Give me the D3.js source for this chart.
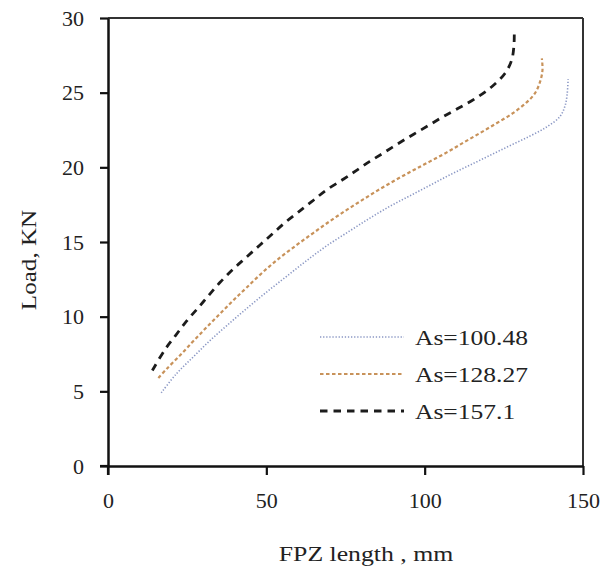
<!DOCTYPE html>
<html lang="en">
<head>
    <meta charset="UTF-8">
    <script src="https://cdn.jsdelivr.net/npm/d3@7"></script>
    <title>Load vs FPZ length</title>
    <style>
        body { margin: 0; background: #fff; }
        svg text { font-family: "Liberation Serif", "Times New Roman", Tinos, Times, serif; fill: #222; }
    </style>
</head>
<body>
<script>
    // series
    var seriesNames = ["As=100.48", "As=128.27", "As=157.1"];

    var x100 = [16.8, 21.7, 26.9, 32.2, 37.5, 43.8, 50.1, 56.4, 62.7, 69.1, 76.4, 82.7, 89.1, 95.4, 101.7, 108.0, 114.3, 120.6, 126.9, 133.3, 138.5, 142.7, 144.3, 145.0, 145.3];
    var y100 = [4.9, 6.2, 7.3, 8.4, 9.4, 10.55, 11.65, 12.7, 13.75, 14.75, 15.75, 16.6, 17.4, 18.1, 18.8, 19.5, 20.15, 20.8, 21.45, 22.1, 22.7, 23.4, 24.1, 24.9, 25.9];

    var x128 = [15.9, 18.5, 22.7, 26.9, 31.2, 35.4, 39.6, 43.8, 49.0, 54.3, 59.6, 64.8, 70.1, 75.4, 80.6, 85.9, 91.2, 96.4, 101.7, 107.0, 112.2, 117.5, 122.7, 128.0, 132.2, 134.8, 136.4, 137.2, 137.0];
    var y128 = [5.9, 6.5, 7.4, 8.35, 9.3, 10.2, 11.1, 11.95, 13.0, 13.95, 14.8, 15.6, 16.4, 17.15, 17.85, 18.55, 19.2, 19.8, 20.4, 21.0, 21.65, 22.3, 22.95, 23.65, 24.35, 24.95, 25.7, 26.5, 27.3];

    var x157 = [14.0, 18.0, 21.2, 24.8, 28.5, 31.7, 35.4, 39.6, 43.8, 48.0, 51.7, 55.9, 60.1, 64.3, 69.1, 74.3, 78.5, 82.7, 86.9, 91.7, 96.4, 101.2, 105.9, 110.6, 115.9, 121.2, 125.4, 127.5, 128.2, 128.3];
    var y157 = [6.4, 7.8, 8.7, 9.7, 10.6, 11.4, 12.3, 13.2, 14.0, 14.8, 15.5, 16.3, 17.0, 17.7, 18.5, 19.2, 19.8, 20.4, 20.95, 21.6, 22.2, 22.8, 23.4, 23.95, 24.6, 25.4, 26.3, 27.2, 28.2, 28.9];

    var xTicks = [0, 50, 100, 150];
    var yTicks = [0, 5, 10, 15, 20, 25, 30];

    var margin = {top: 18, right: 27, bottom: 100, left: 108};
    var width = 610 - margin.left - margin.right,
        height = 566 - margin.top - margin.bottom;

    var svg = d3.select("body").append("svg")
        .attr("width", 610)
        .attr("height", 566);

    var g = svg.append("g")
        .attr("transform", "translate(" + margin.left + "," + margin.top + ")");

    var x = d3.scaleLinear().domain([0, 150]).range([0, width]);
    var y = d3.scaleLinear().domain([0, 30]).range([height, 0]);

    // frame on top and right
    g.append("line").attr("x1", 0).attr("x2", width).attr("y1", 0).attr("y2", 0)
        .attr("stroke", "#333").attr("stroke-width", 2);
    g.append("line").attr("x1", width).attr("x2", width).attr("y1", 0).attr("y2", height)
        .attr("stroke", "#333").attr("stroke-width", 2);

    var xAxis = g.append("g")
        .attr("transform", "translate(0," + height + ")")
        .call(d3.axisBottom(x).tickValues(xTicks).tickSize(9).tickSizeOuter(0).tickPadding(17));
    var yAxis = g.append("g")
        .call(d3.axisLeft(y).tickValues(yTicks).tickSize(8).tickSizeOuter(0).tickPadding(16));

    [xAxis, yAxis].forEach(function(a) {
        a.attr("font-family", null);
        a.select(".domain").attr("stroke", "#111").attr("stroke-width", 2.5);
        a.selectAll(".tick line").attr("stroke", "#111").attr("stroke-width", 2.2);
        a.selectAll(".tick text").style("font-size", "22px").attr("fill", "#222");
    });
    // y axis line runs down to the x tick length
    g.append("line").attr("x1", 0).attr("x2", 0).attr("y1", height).attr("y2", height + 9)
        .attr("stroke", "#111").attr("stroke-width", 2.2);
    g.append("line").attr("x1", -8).attr("x2", 0).attr("y1", height).attr("y2", height)
        .attr("stroke", "#111").attr("stroke-width", 2.2);

    var line = d3.line()
        .x(function(d) { return x(d[0]); })
        .y(function(d) { return y(d[1]); })
        .curve(d3.curveCatmullRom.alpha(0.5));

    var styles = [
        {color: "#8a97c4", dash: "1.3,1.8", w: 1.6},
        {color: "#c8925a", dash: "3.5,2.5", w: 2.2},
        {color: "#1c1c1c", dash: "7.5,6", w: 2.8}
    ];
    var allX = [x100, x128, x157], allY = [y100, y128, y157];

    allX.forEach(function(xs, i) {
        var pts = xs.map(function(v, j) { return [v, allY[i][j]]; });
        g.append("path")
            .attr("d", line(pts))
            .attr("fill", "none")
            .attr("stroke", styles[i].color)
            .attr("stroke-width", styles[i].w)
            .attr("stroke-dasharray", styles[i].dash);
    });

    // legend
    var legendY = [337, 374, 411];
    seriesNames.forEach(function(name, i) {
        svg.append("line")
            .attr("x1", 320).attr("x2", 404)
            .attr("y1", legendY[i]).attr("y2", legendY[i])
            .attr("stroke", styles[i].color)
            .attr("stroke-width", styles[i].w)
            .attr("stroke-dasharray", styles[i].dash);
        var t = svg.append("text")
            .attr("x", 415).attr("y", legendY[i] + 8)
            .style("font-size", "22px")
            .text(name);
        t.attr("textLength", t.node().getComputedTextLength() * 1.16)
            .attr("lengthAdjust", "spacingAndGlyphs");
    });

    // axis titles
    var xt = svg.append("text")
        .attr("x", 366).attr("y", 561)
        .attr("text-anchor", "middle")
        .style("font-size", "22px")
        .text("FPZ length , mm");
    xt.attr("textLength", xt.node().getComputedTextLength() * 1.17)
        .attr("lengthAdjust", "spacingAndGlyphs");

    var yt = svg.append("text")
        .attr("transform", "translate(36,260) rotate(-90)")
        .attr("text-anchor", "middle")
        .style("font-size", "22px")
        .text("Load, KN");
    yt.attr("textLength", yt.node().getComputedTextLength() * 1.14)
        .attr("lengthAdjust", "spacingAndGlyphs");
</script>
</body>
</html>
